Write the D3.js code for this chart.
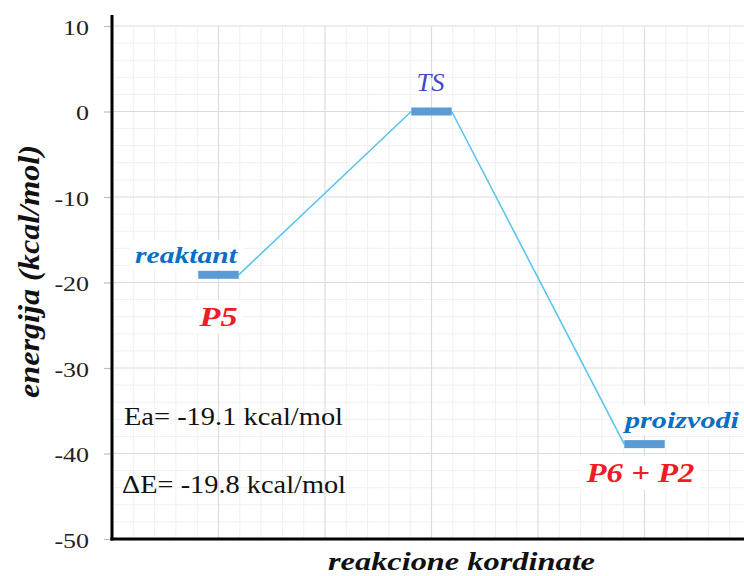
<!DOCTYPE html>
<html>
<head>
<meta charset="utf-8">
<script src="https://cdn.jsdelivr.net/npm/d3@7"></script>
<style>
  html, body { margin: 0; padding: 0; background: #fff; }
  svg { display: block; }
</style>
</head>
<body>
<svg id="chart" width="744" height="576"></svg>
<script>
// ---- data ----
const stages = ["reaktant", "TS", "proizvodi"];
const stageX = [1, 3, 5];
const energies = [-19.1, 0, -38.9];
const species = ["P5", "", "P6 + P2"];
const yTicks = [10, 0, -10, -20, -30, -40, -50];
const notes = ["Ea= -19.1 kcal/mol", "\u0394E= -19.8 kcal/mol"];
const yTitle = "energija (kcal/mol)";
const xTitle = "reakcione kordinate";

(function () {
const FONT = "'Liberation Serif', 'Times New Roman', serif";
const W = 744;
const pLeft = 112, pBottom = 539, pTop = 26;
const SX = 1.18;
const halfW = 0.19;

const svg = d3.select("#chart");
const x = d3.scaleLinear().domain([0, 6]).range([pLeft, 751]);
const y = d3.scaleLinear().domain([-50, 10]).range([pBottom, pTop]);

// grid
const grid = svg.append("g");
const minorX = d3.range(0, 6.01, 0.2).filter(v => Math.abs(v - Math.round(v)) > 1e-6);
const majorX = d3.range(1, 7, 1);
const minorY = d3.range(-50, 10.01, 2).filter(v => v % 10 !== 0);
grid.selectAll(".mnx").data(minorX).join("line")
  .attr("x1", d => x(d)).attr("x2", d => x(d)).attr("y1", pTop).attr("y2", pBottom)
  .attr("stroke", "#f0f0f0").attr("stroke-width", 1);
grid.selectAll(".mny").data(minorY).join("line")
  .attr("x1", pLeft).attr("x2", W).attr("y1", d => y(d)).attr("y2", d => y(d))
  .attr("stroke", "#f0f0f0").attr("stroke-width", 1);
grid.selectAll(".mjx").data(majorX).join("line")
  .attr("x1", d => x(d)).attr("x2", d => x(d)).attr("y1", pTop).attr("y2", pBottom)
  .attr("stroke", "#dcdcdc").attr("stroke-width", 1.2);
grid.selectAll(".mjy").data(yTicks).join("line")
  .attr("x1", pLeft).attr("x2", W).attr("y1", d => y(d)).attr("y2", d => y(d))
  .attr("stroke", "#dcdcdc").attr("stroke-width", 1.2);

// y axis ticks + labels
const yAxis = d3.axisLeft(y).tickValues(yTicks).tickSize(8).tickPadding(0).tickFormat(d => String(d));
const ya = svg.append("g").attr("transform", `translate(${pLeft},0)`).call(yAxis);
ya.select(".domain").remove();
ya.attr("font-family", null);
ya.selectAll(".tick line").attr("stroke", "#bfbfbf").attr("stroke-width", 1.2);
ya.selectAll(".tick text")
  .attr("x", null).attr("dy", null)
  .attr("transform", `translate(-23,8) scale(${SX},1)`)
  .attr("text-anchor", "end")
  .style("font-family", FONT)
  .attr("font-size", 22).attr("fill", "#222");

// axis lines
svg.append("line").attr("x1", pLeft).attr("x2", pLeft).attr("y1", 15).attr("y2", pBottom + 1.5)
  .attr("stroke", "#000").attr("stroke-width", 3);
svg.append("line").attr("x1", pLeft - 1.5).attr("x2", W).attr("y1", pBottom).attr("y2", pBottom)
  .attr("stroke", "#000").attr("stroke-width", 3);

// text helper: font size (vertical) + fitted length (horizontal)
const labels = svg.append("g");
function label(txt, px, py, o) {
  const g = labels.append("g").attr("transform", `translate(${px},${py})`);
  const t = g.append("text")
    .attr("text-anchor", o.anchor || "start")
    .style("font-family", FONT)
    .attr("font-size", o.size)
    .attr("font-weight", o.bold ? "bold" : "normal")
    .attr("font-style", o.italic ? "italic" : "normal")
    .attr("fill", o.fill)
    .attr("textLength", o.len).attr("lengthAdjust", "spacingAndGlyphs")
    .text(txt);
  if (o.bg) {
    const b = t.node().getBBox();
    g.insert("rect", "text").attr("x", b.x - 5).attr("y", b.y - 2)
      .attr("width", b.width + 10).attr("height", b.height + 4).attr("fill", "#fff");
  }
  return g;
}

label(stages[0], x(stageX[0]) + 18.5, y(energies[0]) - 12, { anchor: "end", size: 24, len: 102, bold: true, italic: true, fill: "#0a6fc2", bg: true });
label(species[0], x(stageX[0]), y(energies[0]) + 51, { anchor: "middle", size: 27, len: 38, bold: true, italic: true, fill: "#ee1c25", bg: true });
label(stages[1], x(stageX[1]) - 1, y(energies[1]) - 21, { anchor: "middle", size: 25, len: 28, italic: true, fill: "#4646c8" });
label(stages[2], x(stageX[2]) - 19.5, y(energies[2]) - 16, { anchor: "start", size: 24, len: 114, bold: true, italic: true, fill: "#0a6fc2", bg: true });
label(species[2], x(stageX[2]) - 4, y(energies[2]) + 38, { anchor: "middle", size: 27, len: 108, bold: true, italic: true, fill: "#ee1c25", bg: true });
label(notes[0], 124, 425, { anchor: "start", size: 26, len: 219, fill: "#111" });
label(notes[1], 122, 493, { anchor: "start", size: 26, len: 224, fill: "#111" });

// connectors between level ends
const segs = [];
for (let i = 0; i < stageX.length - 1; i++) {
  segs.push([[stageX[i] + halfW, energies[i]], [stageX[i + 1] - halfW, energies[i + 1]]]);
}
const line = d3.line().x(d => x(d[0])).y(d => y(d[1]));
svg.append("g").selectAll("path").data(segs).join("path")
  .attr("d", line).attr("fill", "none").attr("stroke", "#5cc4ee").attr("stroke-width", 1.6);

// energy level bars
svg.append("g").selectAll("rect").data(stageX).join("rect")
  .attr("x", d => x(d - halfW)).attr("width", d => x(d + halfW) - x(d - halfW))
  .attr("y", (d, i) => y(energies[i]) - 4).attr("height", 8)
  .attr("fill", "#5b9bd5");

// axis titles
svg.append("text")
  .attr("x", 461.5).attr("y", 570)
  .attr("text-anchor", "middle").style("font-family", FONT).attr("font-size", 26)
  .attr("font-weight", "bold").attr("font-style", "italic").attr("fill", "#111")
  .attr("textLength", 267).attr("lengthAdjust", "spacingAndGlyphs")
  .text(xTitle);
svg.append("text")
  .attr("transform", "translate(39,271.5) rotate(-90)")
  .attr("text-anchor", "middle").style("font-family", FONT).attr("font-size", 30)
  .attr("font-weight", "bold").attr("font-style", "italic").attr("fill", "#111")
  .attr("textLength", 253).attr("lengthAdjust", "spacingAndGlyphs")
  .text(yTitle);
})();
</script>
</body>
</html>
